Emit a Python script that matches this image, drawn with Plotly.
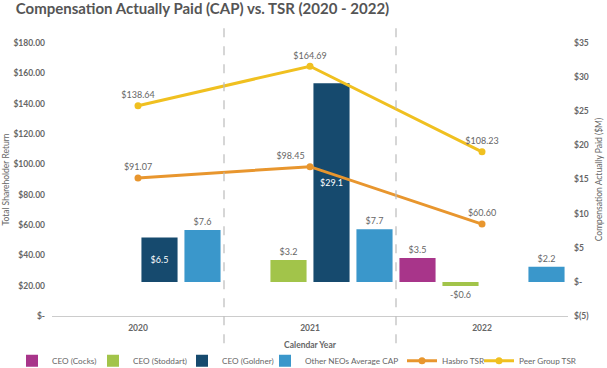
import plotly.graph_objects as go

years = ["2020", "2021", "2022"]
cap_cocks = [None, None, 3.5]
cap_stoddart = [None, 3.2, -0.6]
cap_goldner = [6.5, 29.1, None]
cap_other = [7.6, 7.7, 2.2]
tsr_hasbro = [91.07, 98.45, 60.60]
tsr_peer = [138.64, 164.69, 108.23]

left_ticks = [0, 20, 40, 60, 80, 100, 120, 140, 160, 180]
left_labels = ["$-"] + [f"${v:.2f}" for v in left_ticks[1:]]
right_ticks = [-5, 0, 5, 10, 15, 20, 25, 30, 35]
right_labels = ["$(5)", "$-"] + [f"${v}" for v in right_ticks[2:]]

FONT = "Lato"
GRAY = "#666666"

# pixel position where each legend entry's label text starts
legend_text_x = [53, 134, 223, 306, 443, 520]
PLOT_L, PLOT_W = 52, 516


def money(v):
    if v is None:
        return ""
    return f"-${abs(v):.1f}" if v < 0 else f"${v:.1f}"


fig = go.Figure()

bar_specs = [
    ("CEO (Cocks)", cap_cocks, "#A8358A", "outside", GRAY),
    ("CEO (Stoddart)", cap_stoddart, "#A2C44A", "outside", GRAY),
    ("CEO (Goldner)", cap_goldner, "#164A6E", "inside", "white"),
    ("Other NEOs Average CAP", cap_other, "#3A97CB", "outside", GRAY),
]
legend_ids = ["legend", "legend2", "legend3", "legend4", "legend5", "legend6"]
for i, (name, vals, color, tpos, tcol) in enumerate(bar_specs):
    fig.add_trace(go.Bar(
        x=years, y=vals, name=name,
        marker=dict(color=color, line=dict(width=0)),
        text=[money(v) for v in vals],
        textposition=tpos,
        insidetextanchor="middle",
        textfont=dict(family=FONT, size=9, color=tcol),
        outsidetextfont=dict(family=FONT, size=9, color=GRAY),
        insidetextfont=dict(family=FONT, size=9, color=tcol),
        cliponaxis=False,
        yaxis="y",
        legend=legend_ids[i],
        hoverinfo="skip",
    ))

line_specs = [
    ("Hasbro TSR", tsr_hasbro, "#E8962E", ["top center", "top left", "top center"]),
    ("Peer Group TSR", tsr_peer, "#F0C020", "top center"),
]
for j, (name, vals, color, tpos) in enumerate(line_specs):
    fig.add_trace(go.Scatter(
        x=years, y=vals, name=name, yaxis="y2",
        mode="lines+markers+text",
        line=dict(color=color, width=3),
        marker=dict(color=color, size=7),
        text=[f"${v:.2f}" for v in vals],
        textposition=tpos,
        textfont=dict(family=FONT, size=9, color=GRAY),
        cliponaxis=False,
        legend=legend_ids[4 + j],
    ))

# dashed category separators
for xb in [0.5, 1.5]:
    fig.add_shape(type="line", xref="x", yref="paper", x0=xb, x1=xb,
                  y0=-0.10, y1=1.062,
                  line=dict(color="#BBBBBB", width=1.2, dash="dash"))

legend_font = dict(family=FONT, size=8.2, color=GRAY)
legends = {}
for lid, tx in zip(legend_ids, legend_text_x):
    legends[lid] = dict(orientation="h", x=(tx - 41 - PLOT_L) / PLOT_W, xanchor="left",
                        y=-0.164, yanchor="middle", font=legend_font,
                        bgcolor="rgba(0,0,0,0)", tracegroupgap=0)

fig.update_layout(
    width=607, height=368,
    margin=dict(l=52, r=39, t=43, b=52, autoexpand=False),
    paper_bgcolor="white", plot_bgcolor="white",
    barmode="group", bargap=0.0, bargroupgap=0.16,
    font=dict(family=FONT, color=GRAY),
    title=dict(text="<b>Compensation Actually Paid (CAP) vs. TSR (2020 - 2022)</b>",
               x=0.026, xanchor="left", y=0.99, yanchor="top",
               font=dict(family=FONT, size=15, color="#555555")),
    xaxis=dict(
        type="category", range=[-0.5, 2.5], automargin=False,
        showline=True, linecolor="#CCCCCC", linewidth=1,
        showgrid=False, ticks="", ticklabelstandoff=4,
        tickfont=dict(family=FONT, size=8.5, color=GRAY, weight="bold"),
        title=dict(text="Calendar Year", standoff=9,
                   font=dict(family=FONT, size=8.5, color=GRAY, weight="bold")),
    ),
    yaxis=dict(
        side="right", range=[-5, 35], automargin=False,
        tickvals=right_ticks, ticktext=right_labels, ticklabelstandoff=5,
        showgrid=False, zeroline=False, showline=False,
        tickfont=dict(family=FONT, size=8.5, color=GRAY, weight="bold"),
        title=dict(text="Compensation Actually Paid ($M)", standoff=7,
                   font=dict(family=FONT, size=8.5, color=GRAY)),
    ),
    yaxis2=dict(
        side="left", overlaying="y", range=[0, 180], automargin=False,
        tickvals=left_ticks, ticktext=left_labels, ticklabelstandoff=6,
        showgrid=False, zeroline=False, showline=False,
        tickfont=dict(family=FONT, size=8.5, color=GRAY, weight="bold"),
        title=dict(text="Total Shareholder Return", standoff=2,
                   font=dict(family=FONT, size=8.5, color=GRAY)),
    ),
    showlegend=True,
    **legends,
)

fig.write_html("out.html", config={"displayModeBar": False},
               post_script="document.body.style.margin='0px';")
